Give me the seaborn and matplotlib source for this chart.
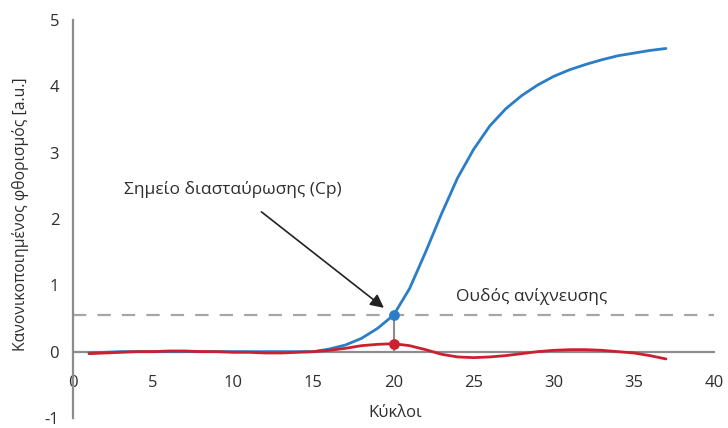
import matplotlib
matplotlib.use("Agg")
import matplotlib.pyplot as plt
import numpy as np
import pandas as pd
import seaborn as sns

# cycle numbers and normalised fluorescence
cycles = list(range(1, 38))
sample = [-0.02, -0.01, 0.0, 0.0, 0.0, 0.0, 0.0, 0.0, 0.0, 0.0,
          0.0, 0.0, 0.0, 0.0, 0.0, 0.04, 0.1, 0.2, 0.35, 0.55,
          0.95, 1.5, 2.08, 2.62, 3.05, 3.4, 3.66, 3.86, 4.02, 4.15,
          4.25, 4.33, 4.4, 4.46, 4.5, 4.54, 4.57]
control = [-0.03, -0.02, -0.01, 0.0, 0.0, 0.01, 0.01, 0.0, 0.0, -0.01,
           -0.01, -0.02, -0.02, -0.01, 0.0, 0.02, 0.05, 0.09, 0.11, 0.12,
           0.09, 0.03, -0.04, -0.08, -0.09, -0.08, -0.06, -0.03, 0.0, 0.02,
           0.03, 0.03, 0.02, 0.0, -0.02, -0.06, -0.11]
threshold = 0.55
cp_cycle = 20

x_ticks = [0, 5, 10, 15, 20, 25, 30, 35, 40]
y_ticks = [-1, 0, 1, 2, 3, 4, 5]

df = pd.DataFrame({"cycle": cycles, "sample": sample, "control": control})

sns.set_style("white")
plt.rcParams["font.family"] = ["Open Sans", "DejaVu Sans"]
plt.rcParams["axes.unicode_minus"] = False

fig = plt.figure(figsize=(7.28, 4.28), dpi=100)
ax = fig.add_axes([0.1003, 0.0234, 0.8805, 0.93])

grey = "#8c8c8c"
blue = "#2a7dc6"
red = "#cc1f30"
text_col = "#2e2e2e"

ax.axhline(threshold, color="#a6a6a6", linewidth=1.6, linestyle=(0, (6, 5)), zorder=1)
ax.plot([cp_cycle, cp_cycle], [0, threshold], color=grey, linewidth=1.5, zorder=1)

sns.lineplot(data=df, x="cycle", y="sample", color=blue, linewidth=2, ax=ax, zorder=3)
sns.lineplot(data=df, x="cycle", y="control", color=red, linewidth=2, ax=ax, zorder=3)

i = cycles.index(cp_cycle)
ax.scatter([cp_cycle], [sample[i]], s=45, color=blue, zorder=4)
ax.scatter([cp_cycle], [control[i]], s=45, color=red, zorder=4)

ax.annotate("Σημείο διασταύρωσης (Cp)", xy=(19.4, 0.66), xytext=(10.0, 2.44),
            ha="center", va="center", fontsize=12.5, color=text_col,
            arrowprops=dict(arrowstyle="-|>", color="#222222", lw=1.2,
                            mutation_scale=20, shrinkA=12, shrinkB=0))
ax.text(28.6, 0.83, "Ουδός ανίχνευσης", ha="center", va="center",
        fontsize=12.5, color=text_col)

ax.set_xlim(0, 40)
ax.set_ylim(-1, 5)
ax.set_xticks(x_ticks)
ax.set_yticks(y_ticks)

ax.spines["left"].set_position(("data", 0))
ax.spines["bottom"].set_position(("data", 0))
ax.spines["top"].set_visible(False)
ax.spines["right"].set_visible(False)
for s in ["left", "bottom"]:
    ax.spines[s].set_color(grey)
    ax.spines[s].set_linewidth(1.6)

ax.tick_params(axis="x", direction="out", length=8, width=1.5, color=grey,
               labelsize=12, labelcolor=text_col, pad=9)
ax.tick_params(axis="y", direction="inout", length=12, width=1.5, color=grey,
               labelsize=12, labelcolor=text_col, pad=4)

ax.set_xlabel("")
ax.set_ylabel("")
fig.text(0.543, 0.035, "Κύκλοι", ha="center", va="center", fontsize=12, color=text_col)
fig.text(0.028, 0.50, "Κανονικοποιημένος φθορισμός [a.u.]", ha="center", va="center",
         rotation=90, fontsize=11.3, color=text_col)

fig.savefig("out.png", dpi=100)
